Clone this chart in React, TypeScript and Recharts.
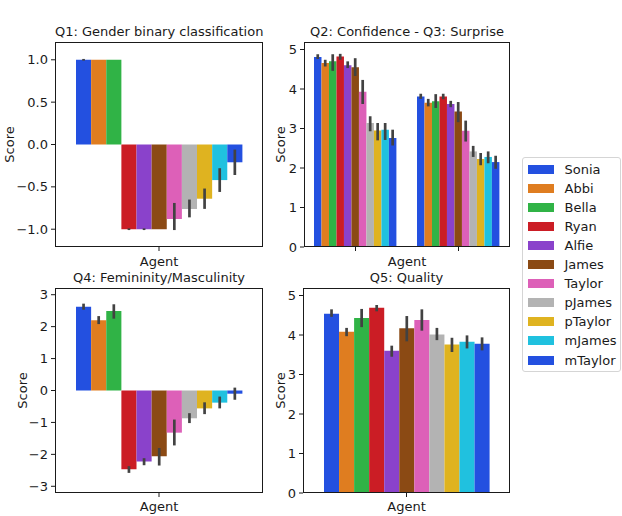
import React from 'react';
import { BarChart, Bar, XAxis, YAxis, ErrorBar } from 'recharts';

const agents = ['Sonia', 'Abbi', 'Bella', 'Ryan', 'Alfie', 'James', 'Taylor', 'pJames', 'pTaylor', 'mJames', 'mTaylor'];
const colors = ['#2350e0', '#df7d20', '#30b346', '#cb1d25', '#8a42cb', '#8b4a14', '#dd60b8', '#b3b3b3', '#dfb320', '#20c1df', '#2350e0'];

// Q1: gender binary classification
const q1Mean = [1.0, 1.0, 1.0, -1.0, -1.0, -1.0, -0.88, -0.76, -0.64, -0.42, -0.21];
const q1Low = [0.99, 1.0, 1.0, -1.01, -1.01, -1.0, -1.01, -0.86, -0.76, -0.56, -0.36];
const q1High = [1.01, 1.0, 1.0, -0.99, -0.99, -1.0, -0.69, -0.65, -0.52, -0.28, -0.06];

// Q2: confidence
const q2Mean = [4.81, 4.66, 4.70, 4.82, 4.60, 4.55, 3.93, 3.14, 2.95, 2.97, 2.76];
const q2Low = [4.76, 4.57, 4.46, 4.74, 4.53, 4.33, 3.62, 2.93, 2.70, 2.71, 2.57];
const q2High = [4.88, 4.74, 4.88, 4.89, 4.70, 4.78, 4.23, 3.31, 3.14, 3.14, 2.97];

// Q3: surprise
const q3Mean = [3.81, 3.65, 3.69, 3.81, 3.62, 3.43, 2.94, 2.42, 2.23, 2.28, 2.15];
const q3Low = [3.75, 3.56, 3.52, 3.74, 3.54, 3.16, 2.67, 2.28, 2.07, 2.12, 1.98];
const q3High = [3.88, 3.75, 3.87, 3.88, 3.70, 3.67, 3.20, 2.56, 2.38, 2.42, 2.31];

// Q4: femininity / masculinity
const q4Mean = [2.62, 2.20, 2.49, -2.47, -2.22, -2.06, -1.32, -0.87, -0.56, -0.38, -0.10];
const q4Low = [2.53, 2.08, 2.25, -2.58, -2.34, -2.35, -1.72, -1.02, -0.74, -0.56, -0.29];
const q4High = [2.72, 2.33, 2.70, -2.37, -2.12, -1.80, -0.91, -0.71, -0.37, -0.19, 0.09];

// Q5: quality
const q5Mean = [4.54, 4.08, 4.43, 4.69, 3.60, 4.17, 4.38, 4.01, 3.76, 3.83, 3.78];
const q5Low = [4.46, 3.97, 4.20, 4.60, 3.45, 3.84, 4.11, 3.87, 3.57, 3.66, 3.61];
const q5High = [4.65, 4.18, 4.66, 4.76, 3.73, 4.48, 4.65, 4.18, 3.93, 3.99, 3.94];

const q1Ticks = [-1, -0.5, 0, 0.5, 1];
const q23Ticks = [0, 1, 2, 3, 4, 5];
const q4Ticks = [-3, -2, -1, 0, 1, 2, 3];
const q5Ticks = [0, 1, 2, 3, 4, 5];

const FONT = '"DejaVu Sans", sans-serif';
const INK = '#1a1a1a';

type Group = { cat: string; mean: number[]; low: number[]; high: number[] };

// one row per x category, one key per agent, plus an asymmetric error pair
const buildRows = (groups: Group[]) =>
    groups.map(g => {
        const row: Record<string, any> = { cat: g.cat };
        agents.forEach((a, i) => {
            row[a] = g.mean[i];
            row[a + '_err'] = [g.mean[i] - g.low[i], g.high[i] - g.mean[i]];
        });
        return row;
    });

const minus = (s: string) => s.replace('-', '\u2212');

interface PanelProps {
    x: number; y: number; w: number; h: number;
    title: string;
    rows: Record<string, any>[];
    domain: [number, number];
    ticks: number[];
    fmt: (v: number) => string;
    scoreX: number;
    agentY: number;
}

const Panel: React.FC<PanelProps> = ({ x, y, w, h, title, rows, domain, ticks, fmt, scoreX, agentY }) => {
    const barSize = (w / rows.length) * 0.8 / agents.length;
    return (
        <>
            <div style={{ position: 'absolute', left: x - 50, top: y - 5 }}>
                <BarChart width={w + 55} height={h + 25} data={rows}
                    margin={{ top: 5, right: 5, left: 0, bottom: 0 }}
                    barGap={0} barCategoryGap="10%" barSize={barSize}>
                    <XAxis dataKey="cat" height={20} axisLine={false} tickSize={4}
                        tickLine={{ stroke: INK, strokeWidth: 1 }} tick={() => <g />} />
                    <YAxis width={50} domain={domain} ticks={ticks} allowDataOverflow interval={0}
                        axisLine={false} tickSize={4} tickMargin={3}
                        tickLine={{ stroke: INK, strokeWidth: 1 }}
                        tick={{ fill: INK, fontSize: 13, fontFamily: FONT }}
                        tickFormatter={fmt} />
                    {agents.map((a, i) => (
                        <Bar key={a} dataKey={a} fill={colors[i]} isAnimationActive={false}>
                            <ErrorBar dataKey={a + '_err'} width={0} strokeWidth={2.7}
                                stroke="#424242" isAnimationActive={false} />
                        </Bar>
                    ))}
                </BarChart>
            </div>
            {/* axes frame */}
            <div style={{ position: 'absolute', left: x, top: y, width: w, height: h,
                border: `1px solid ${INK}`, boxSizing: 'border-box', pointerEvents: 'none' }} />
            <div style={{ position: 'absolute', left: x, width: w, top: y - 18, textAlign: 'center',
                fontSize: 13, fontFamily: FONT, color: INK, whiteSpace: 'nowrap', lineHeight: '15px' }}>{title}</div>
            <div style={{ position: 'absolute', left: x, width: w, top: agentY - 8, textAlign: 'center',
                fontSize: 13, fontFamily: FONT, color: INK, lineHeight: '15px' }}>Agent</div>
            <div style={{ position: 'absolute', left: scoreX - 30, top: y + h / 2 - 8, width: 60, textAlign: 'center',
                fontSize: 13, fontFamily: FONT, color: INK, lineHeight: '15px', transform: 'rotate(-90deg)' }}>Score</div>
        </>
    );
};

const Legend = () => (
    <div style={{ position: 'absolute', left: 521.5, top: 156.5, width: 99.5, height: 215,
        border: '1px solid #d5d5d5', borderRadius: 3, boxSizing: 'border-box', background: '#fff' }}>
        {agents.map((a, i) => (
            <div key={a} style={{ position: 'absolute', left: 0, top: 2 + i * 19.1, height: 19.1, width: '100%' }}>
                <div style={{ position: 'absolute', left: 5, top: 5, width: 26, height: 9, background: colors[i] }} />
                <div style={{ position: 'absolute', left: 42, top: 1, fontSize: 13, fontFamily: FONT,
                    color: INK, lineHeight: '17px' }}>{a}</div>
            </div>
        ))}
    </div>
);

export default function App() {
    const q1Rows = buildRows([{ cat: 'Q1', mean: q1Mean, low: q1Low, high: q1High }]);
    const q23Rows = buildRows([
        { cat: 'Q2', mean: q2Mean, low: q2Low, high: q2High },
        { cat: 'Q3', mean: q3Mean, low: q3Low, high: q3High },
    ]);
    const q4Rows = buildRows([{ cat: 'Q4', mean: q4Mean, low: q4Low, high: q4High }]);
    const q5Rows = buildRows([{ cat: 'Q5', mean: q5Mean, low: q5Low, high: q5High }]);

    return (
        <div style={{ position: 'absolute', left: 0, top: 0, width: 622, height: 516, background: '#fff', overflow: 'hidden' }}>
            <Panel x={55} y={42} w={208} h={205} title="Q1: Gender binary classification" rows={q1Rows}
                domain={[-1.21, 1.21]} ticks={q1Ticks} fmt={v => minus(v.toFixed(1))} scoreX={8.5} agentY={262} />
            <Panel x={304} y={42} w={206} h={205} title="Q2: Confidence - Q3: Surprise" rows={q23Rows}
                domain={[0, 5.19]} ticks={q23Ticks} fmt={v => String(v)} scoreX={279.5} agentY={262} />
            <Panel x={55} y={288} w={208} h={205} title="Q4: Femininity/Masculinity" rows={q4Rows}
                domain={[-3.21, 3.21]} ticks={q4Ticks} fmt={v => minus(String(v))} scoreX={21.5} agentY={507} />
            <Panel x={303} y={288} w={207} h={205} title="Q5: Quality" rows={q5Rows}
                domain={[0, 5.19]} ticks={q5Ticks} fmt={v => String(v)} scoreX={279.5} agentY={507} />
            <Legend />
        </div>
    );
}
